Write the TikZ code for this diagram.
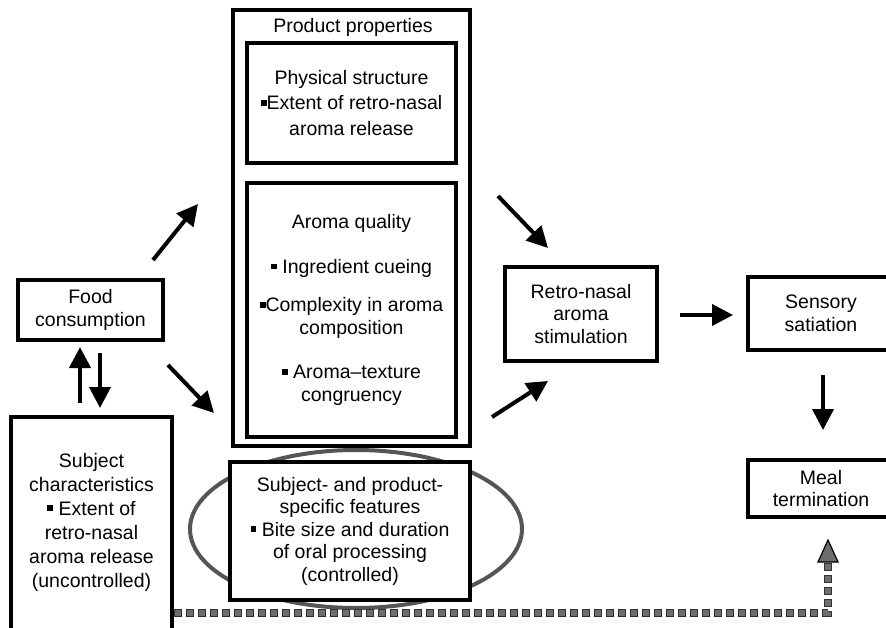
\documentclass[tikz,border=0pt]{standalone}
\usepackage{fontspec}
\setmainfont{Liberation Sans}
\usetikzlibrary{arrows.meta,calc}
\newcommand{\fsz}{\fontsize{19.5}{22.5}\selectfont}
\newcommand{\bul}{\rule[0.2em]{0.3em}{0.3em}}
\definecolor{ellgray}{HTML}{555555}
\definecolor{dotgray}{HTML}{6E6E6E}
\definecolor{dotedge}{HTML}{303030}
\tikzset{
  boxnode/.style={draw, line width=4pt, fill=white, inner sep=0pt, align=center, font=\fsz},
  txtnode/.style={inner sep=0pt, align=center, font=\fsz},
  arr/.style={line width=4pt, -{Triangle[length=21pt,width=21pt]}},
}
\begin{document}
\begin{tikzpicture}[x=1pt,y=-1pt]
\path[use as bounding box, clip] (0,0) rectangle (886,628);
\fill[white] (0,0) rectangle (886,628);

% ellipse behind the subject/product box
\draw[ellgray, line width=4pt] (356,529) ellipse [x radius=166, y radius=79];

% boxes
\node[boxnode, minimum width=237pt, minimum height=436pt] (prod) at (351.5,228) {};
\node[txtnode] (prodtitle) at (353,27) {Product properties};
\node[boxnode, minimum width=209pt, minimum height=120pt, font=\fontsize{19.5}{25.5}\selectfont] (phys) at (351.5,103)
  {Physical structure\\\bul Extent of retro-nasal\\aroma release};
\node[boxnode, minimum width=209pt, minimum height=254pt] (aroma) at (351.5,310)
  {Aroma quality\\[22pt]\bul\ Ingredient cueing\\[16pt]\bul Complexity in aroma\\composition\\[22pt]\bul\ Aroma–texture\\congruency};
\node[boxnode, minimum width=240pt, minimum height=138pt] (spf) at (350,531)
  {Subject- and product-\\specific features\\\bul\ Bite size and duration\\of oral processing\\(controlled)};

\node[boxnode, minimum width=145pt, minimum height=60pt] (food) at (90.5,310) {Food\\consumption};
\node[boxnode, minimum width=161pt, minimum height=223pt] (subj) at (91.5,528.5) {};
\node[txtnode, font=\fontsize{19.5}{24}\selectfont] (subjtext) at (91.5,522)
  {Subject\\characteristics\\\bul\ Extent of\\retro-nasal\\aroma release\\(uncontrolled)};

\node[boxnode, minimum width=152pt, minimum height=94pt] (retro) at (581,314) {Retro-nasal\\aroma\\stimulation};
\node[boxnode, minimum width=146pt, minimum height=73pt] (sens) at (821,313.5) {Sensory\\satiation};
\node[boxnode, minimum width=146pt, minimum height=57pt] (meal) at (821,488.5) {Meal\\termination};

% arrow end points
\coordinate (a1s) at (153,260); \coordinate (a1e) at (198,204);
\coordinate (a2s) at (168,365); \coordinate (a2e) at (214,413);
\coordinate (a3s) at (498,196); \coordinate (a3e) at (548,248);
\coordinate (a4s) at (492,417); \coordinate (a4e) at (548,381);
\coordinate (a5s) at (680,315); \coordinate (a5e) at (733,315);
\coordinate (a6s) at (823,375); \coordinate (a6e) at (823,430);
\coordinate (upS) at (80,403);  \coordinate (upE) at (80,347);
\coordinate (dnS) at (100,353); \coordinate (dnE) at (100,408);

\draw[arr] (a1s) -- (a1e);
\draw[arr] (a2s) -- (a2e);
\draw[arr] (a3s) -- (a3e);
\draw[arr] (a4s) -- (a4e);
\draw[arr] (a5s) -- (a5e);
\draw[arr] (a6s) -- (a6e);
\draw[arr] (upS) -- (upE);
\draw[arr] (dnS) -- (dnE);

% dotted feedback line
\coordinate (d0) at (subj.east |- 0,613);
\coordinate (d1) at (828,613);
\coordinate (d2) at (828,563);
\coordinate (dtip) at (828,540);
\draw[dotedge, line width=8pt, dash pattern=on 8pt off 4pt] (d0) -- (d1) -- (d2);
\draw[dotgray, line width=6pt, dash pattern=on 6pt off 6pt, dash phase=11pt] (d0) -- (d1) -- (d2);
\filldraw[fill=dotgray, draw=black, line width=1.2pt, line join=miter]
  (dtip) -- ($(dtip)+(10,22)$) -- ($(dtip)+(-10,22)$) -- cycle;
\end{tikzpicture}
\end{document}
